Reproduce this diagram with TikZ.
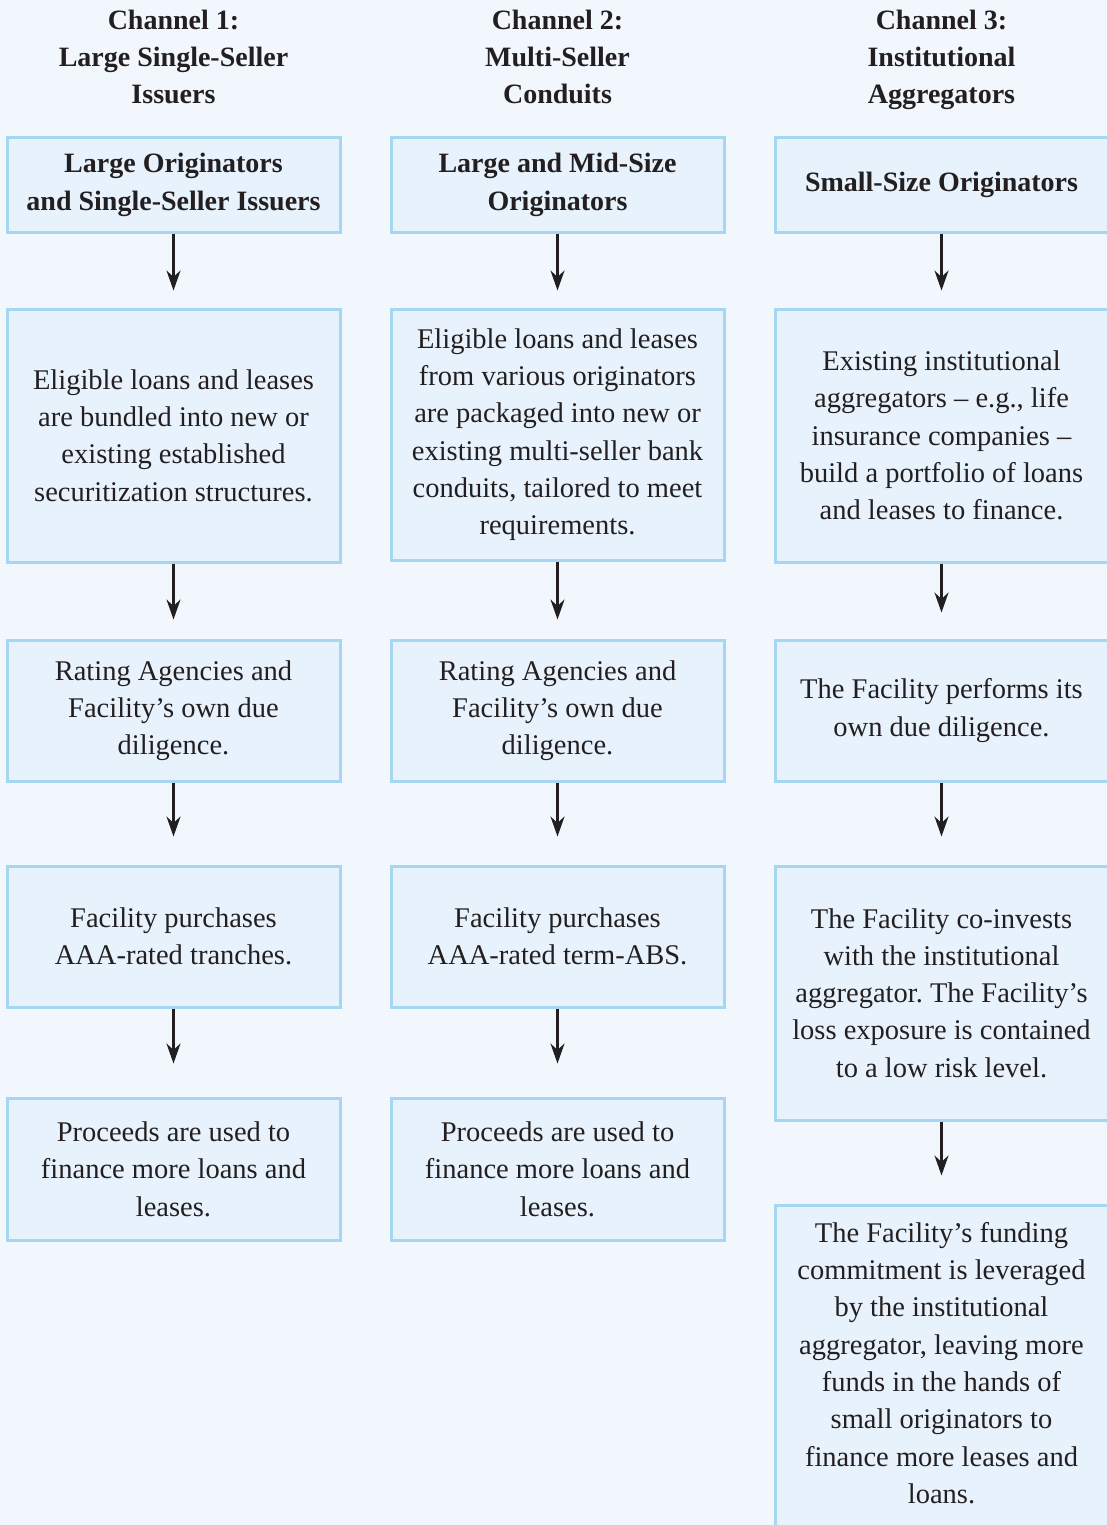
\documentclass[tikz,border=0pt]{standalone}
\usepackage{fontspec}
\setmainfont{Liberation Serif}
\usetikzlibrary{arrows.meta}
\definecolor{bg}{HTML}{F1F7FD}
\definecolor{boxfill}{HTML}{E7F2FC}
\definecolor{boxline}{HTML}{A6D7F2}
\definecolor{txt}{HTML}{231F20}
\frenchspacing
\begin{document}
\begin{tikzpicture}[x=1pt,y=-1pt,
 boxtext/.style={align=center, text=txt, font=\fontsize{28.5}{37.3}\selectfont},
 box/.style={boxtext, draw=boxline, fill=boxfill, line width=3pt, minimum width=333pt, inner sep=0pt},
 hdr/.style={align=center, text=txt, font=\fontsize{28}{37.3}\selectfont\bfseries},
 arr/.style={-{Stealth[length=20pt,width=14pt]}, line width=2.4pt, draw=txt}]
\clip (0,0) rectangle (1107,1525);
\fill[bg] (0,0) rectangle (1107,1525);
% headers
\node[hdr] (h1) at (173.5,57) {Channel 1:\\Large Single-Seller\\Issuers};
\node[hdr] (h2) at (557.5,57) {Channel 2:\\Multi-Seller\\Conduits};
\node[hdr] (h3) at (941.5,60) {Channel 3:\\Institutional\\Aggregators};
% column 1
\node[box, minimum height=94pt, font=\fontsize{28}{37.3}\selectfont\bfseries] (c1a) at (173.5,185) {Large Originators\\and Single-Seller Issuers};
\node[box, minimum height=253pt] (c1b) at (173.5,435.5) {Eligible loans and leases\\are bundled into new or\\existing established\\securitization structures.};
\node[box, minimum height=141pt] (c1c) at (173.5,710.5) {Rating Agencies and\\Facility’s own due\\diligence.};
\node[box, minimum height=141pt] (c1d) at (173.5,936.5) {Facility purchases\\AAA-rated tranches.};
\node[box, minimum height=142pt] (c1e) at (173.5,1169) {Proceeds are used to\\finance more loans and\\leases.};
% column 2
\node[box, minimum height=94pt, font=\fontsize{28}{37.3}\selectfont\bfseries] (c2a) at (557.5,185) {Large and Mid-Size\\Originators};
\node[box, minimum height=251pt] (c2b) at (557.5,434.5) {Eligible loans and leases\\from various originators\\are packaged into new or\\existing multi-seller bank\\conduits, tailored to meet\\requirements.};
\node[box, minimum height=141pt] (c2c) at (557.5,710.5) {Rating Agencies and\\Facility’s own due\\diligence.};
\node[box, minimum height=141pt] (c2d) at (557.5,936.5) {Facility purchases\\AAA-rated term-ABS.};
\node[box, minimum height=142pt] (c2e) at (557.5,1169) {Proceeds are used to\\finance more loans and\\leases.};
% column 3
\node[box, minimum height=94pt, font=\fontsize{28}{37.3}\selectfont\bfseries] (c3a) at (941.5,185) {Small-Size Originators};
\node[box, minimum height=253pt] (c3b) at (941.5,435.5) {Existing institutional\\aggregators – e.g., life\\insurance companies –\\build a portfolio of loans\\and leases to finance.};
\node[box, minimum height=141pt] (c3c) at (941.5,710.5) {The Facility performs its\\own due diligence.};
\node[box, minimum height=254pt] (c3d) at (941.5,993) {The Facility co-invests\\with the institutional\\aggregator. The Facility’s\\loss exposure is contained\\to a low risk level.};
\node[box, minimum height=340pt, label={[boxtext, yshift=12pt]center:{The Facility’s funding\\commitment is leveraged\\by the institutional\\aggregator, leaving more\\funds in the hands of\\small originators to\\finance more leases and\\loans.}}] (c3e) at (941.5,1375) {};
% arrows
\draw[arr, shorten >=17pt] (c1a) -- (c1b);
\draw[arr, shorten >=19pt] (c1b) -- (c1c);
\draw[arr, shorten >=28pt] (c1c) -- (c1d);
\draw[arr, shorten >=33pt] (c1d) -- (c1e);
\draw[arr, shorten >=17pt] (c2a) -- (c2b);
\draw[arr, shorten >=19pt] (c2b) -- (c2c);
\draw[arr, shorten >=28pt] (c2c) -- (c2d);
\draw[arr, shorten >=33pt] (c2d) -- (c2e);
\draw[arr, shorten >=17pt] (c3a) -- (c3b);
\draw[arr, shorten >=26pt] (c3b) -- (c3c);
\draw[arr, shorten >=28pt] (c3c) -- (c3d);
\draw[arr, shorten >=28pt] (c3d) -- (c3e);
\end{tikzpicture}
\end{document}
